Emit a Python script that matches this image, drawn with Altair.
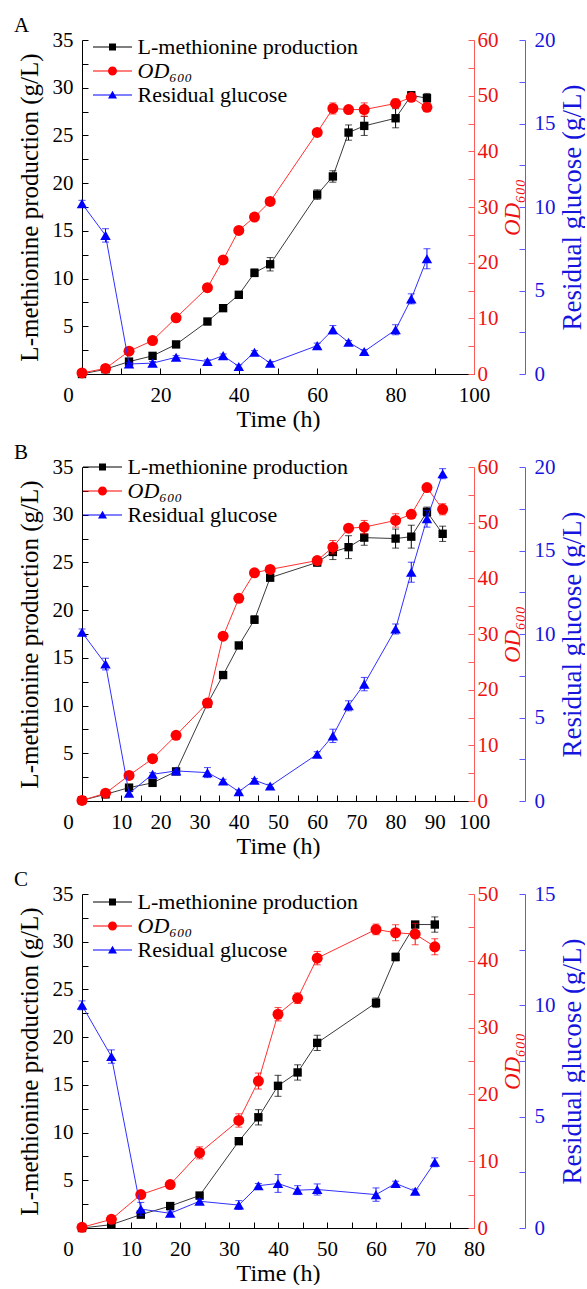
import altair as alt
import pandas as pd

FONT = "Liberation Serif"
MET = "L-methionine production"
OD = "OD₆₀₀"
GLC = "Residual glucose"
SERIES = [MET, OD, GLC]

# ---------------- Panel A ----------------
a_time = [0, 6, 12, 18, 24, 32, 36, 40, 44, 48, 60, 64, 68, 72, 80, 84, 88]
a_met = [0.0, 0.5, 1.3, 1.9, 3.1, 5.5, 6.9, 8.3, 10.6, 11.5, 18.8, 20.7, 25.3, 26.0, 26.8, 29.2, 28.9]
a_met_err = [0.05, 0.1, 0.15, 0.2, 0.2, 0.2, 0.2, 0.2, 0.4, 0.7, 0.5, 0.6, 0.8, 1.0, 1.0, 0.4, 0.5]
a_od = [0.2, 1.0, 4.1, 6.0, 10.1, 15.5, 20.5, 25.8, 28.2, 31.0, 43.4, 47.7, 47.5, 47.5, 48.6, 49.7, 47.9]
a_od_err = [0.1, 0.3, 0.3, 0.3, 0.3, 0.3, 0.5, 0.5, 0.5, 0.5, 0.5, 1.0, 0.6, 1.2, 0.8, 0.6, 0.6]
a_glc = [10.2, 8.3, 0.6, 0.65, 1.0, 0.75, 1.1, 0.45, 1.3, 0.65, 1.7, 2.65, 1.9, 1.35, 2.65, 4.5, 6.9]
a_glc_err = [0.2, 0.4, 0.1, 0.1, 0.1, 0.1, 0.1, 0.1, 0.1, 0.1, 0.15, 0.25, 0.1, 0.1, 0.3, 0.3, 0.6]

# ---------------- Panel B ----------------
b_time = [0, 6, 12, 18, 24, 32, 36, 40, 44, 48, 60, 64, 68, 72, 80, 84, 88, 92]
b_met = [0.07, 0.7, 1.4, 1.9, 3.1, 10.2, 13.2, 16.3, 19.0, 23.4, 25.0, 26.1, 26.6, 27.6, 27.5, 27.7, 30.3, 28.0]
b_met_err = [0.05, 0.1, 0.1, 0.2, 0.2, 0.2, 0.3, 0.3, 0.4, 0.3, 0.4, 0.8, 1.2, 0.8, 1.0, 1.2, 0.5, 0.8]
b_od = [0.1, 1.4, 4.6, 7.6, 11.8, 17.6, 29.6, 36.4, 41.0, 41.6, 43.2, 45.6, 49.0, 49.2, 50.4, 51.5, 56.3, 52.4]
b_od_err = [0.1, 0.3, 0.3, 0.3, 0.3, 0.3, 0.5, 0.5, 0.5, 0.5, 0.6, 1.2, 0.6, 1.2, 1.2, 0.6, 0.5, 1.0]
b_glc = [10.1, 8.2, 0.46, 1.6, 1.8, 1.7, 1.2, 0.56, 1.25, 0.9, 2.8, 3.9, 5.7, 7.0, 10.3, 13.7, 16.9, 19.6]
b_glc_err = [0.2, 0.35, 0.1, 0.1, 0.1, 0.3, 0.1, 0.1, 0.1, 0.1, 0.15, 0.4, 0.3, 0.4, 0.3, 0.6, 0.5, 0.3]

# ---------------- Panel C ----------------
c_time = [0, 6, 12, 18, 24, 32, 36, 40, 44, 48, 60, 64, 68, 72]
c_met = [0.0, 0.35, 1.4, 2.3, 3.4, 9.1, 11.6, 14.9, 16.3, 19.4, 23.6, 28.4, 31.8, 31.8]
c_met_err = [0.05, 0.1, 0.1, 0.2, 0.2, 0.3, 0.8, 1.1, 0.8, 0.8, 0.5, 0.4, 0.3, 0.8]
c_od = [0.1, 1.3, 5.0, 6.5, 11.25, 16.1, 22.0, 32.0, 34.4, 40.4, 44.7, 44.2, 44.0, 42.1]
c_od_err = [0.1, 0.5, 0.5, 0.3, 0.9, 1.0, 1.2, 1.0, 0.8, 1.0, 0.8, 1.2, 1.6, 1.2]
c_glc = [10.0, 7.7, 0.85, 0.66, 1.2, 1.03, 1.9, 2.0, 1.7, 1.73, 1.5, 2.0, 1.65, 2.95]
c_glc_err = [0.2, 0.3, 0.3, 0.1, 0.1, 0.2, 0.1, 0.4, 0.2, 0.25, 0.3, 0.1, 0.1, 0.2]

# tick values (major + minor)
met_ticks = [i * 2.5 for i in range(15)]
od60_ticks = [i * 5 for i in range(13)]
od50_ticks = [i * 5 for i in range(11)]
glc20_ticks = [i * 2.5 for i in range(9)]
glc15_ticks = [i * 2.5 for i in range(7)]
x100a_ticks = [i * 10 for i in range(11)]
x100b_ticks = [i * 5 for i in range(21)]
x80_ticks = [i * 5 for i in range(17)]

BLACK_PT, BLACK_LN = "#000000", "#3a3a3a"
RED_PT, RED_LN, RED_AX, RED_TXT = "#ff0000", "#ff3030", "#ff5a5a", "#ee1111"
BLUE_PT, BLUE_LN, BLUE_AX, BLUE_TXT = "#0000ff", "#3030ff", "#5a5aff", "#1515dd"

SQ = "M-1.95,-0.05H1.95V0.05H-1.95Z M-0.35,-0.35H0.35V0.35H-0.35Z"
CI = "M-1.95,-0.05H1.95V0.05H-1.95Z M-0.45,0A0.45,0.45 0 1,1 0.45,0A0.45,0.45 0 1,1 -0.45,0Z"
TR = "M-1.95,-0.05H1.95V0.05H-1.95Z M0,-0.42L0.45,0.35L-0.45,0.35Z"

INWARD = {"expr": "-6"}
W, H = 392, 334


def frame(t, v, e):
    return pd.DataFrame({
        "t": t, "v": v,
        "lo": [a - b for a, b in zip(v, e)],
        "hi": [a + b for a, b in zip(v, e)],
    })


def series(df, X, domain, axis, pt_color, ln_color, shape, size):
    yscale = alt.Scale(domain=domain, nice=False, zero=False)
    base = alt.Chart(df)
    line = base.mark_line(color=ln_color, strokeWidth=1).encode(
        x=X, y=alt.Y("v:Q", scale=yscale, axis=axis))
    eb = base.mark_errorbar(ticks=True, size=7, thickness=1, color=pt_color).encode(
        x=X, y=alt.Y("lo:Q", scale=yscale, axis=axis), y2="hi:Q")
    pts = base.mark_point(shape=shape, filled=True, size=size, color=pt_color, opacity=1).encode(
        x=X, y=alt.Y("v:Q", scale=yscale, axis=axis))
    return alt.layer(line, eb, pts)


def panel(letter, t, met, met_e, od, od_e, glc, glc_e, xmax, xticks, xmajor,
          odmax, odticks, glcmax, glcticks, leg_x, leg_y):
    xaxis = alt.Axis(
        values=xticks,
        labelExpr=f"datum.value % {xmajor} == 0 ? format(datum.value, 'd') : ''",
        labelOffset={"expr": "datum.value == 0 ? -14 : 0"},
        title="Time (h)", titleFontSize=24, titlePadding=2,
        labelFontSize=21, labelPadding=16, labelFlush=False,
        tickSize=INWARD, tickColor="black", domainColor="black",
        labelColor="black", titleColor="black",
    )
    X = alt.X("t:Q", scale=alt.Scale(domain=[0, xmax], nice=False, zero=False), axis=xaxis)

    met_axis = alt.Axis(
        values=met_ticks,
        labelExpr="(datum.value % 5 == 0 && datum.value > 0) ? format(datum.value, 'd') : ''",
        title="L-methionine production (g/L)", titleFontSize=25, titlePadding=10,
        labelFontSize=21, labelPadding=15, labelFlush=False,
        tickSize=INWARD, tickColor="black", domainColor="black",
        labelColor="black", titleColor="black",
    )
    od_axis = alt.Axis(
        orient="right", values=odticks,
        labelExpr="datum.value % 10 == 0 ? format(datum.value, 'd') : ''",
        title=OD, titleFontSize=23, titleFontStyle="italic", titleAngle=270,
        titleBaseline="top", titlePadding=3,
        labelFontSize=21, labelPadding=9, labelFlush=False,
        tickSize=INWARD, tickColor=RED_AX, domainColor=RED_AX,
        labelColor=RED_TXT, titleColor=RED_TXT,
    )
    glc_axis = alt.Axis(
        orient="right", offset=51, values=glcticks,
        labelExpr="datum.value % 5 == 0 ? format(datum.value, 'd') : ''",
        title="Residual glucose (g/L)", titleFontSize=27, titleAngle=270,
        titleBaseline="top", titlePadding=4,
        labelFontSize=21, labelPadding=15, labelFlush=False,
        tickSize=INWARD, tickColor=BLUE_AX, domainColor=BLUE_AX,
        labelColor=BLUE_TXT, titleColor=BLUE_TXT,
    )

    s_met = series(frame(t, met, met_e), X, [0, 35], met_axis, BLACK_PT, BLACK_LN, "square", 70)
    s_od = series(frame(t, od, od_e), X, [0, odmax], od_axis, RED_PT, RED_LN, "circle", 121)
    s_glc = series(frame(t, glc, glc_e), X, [0, glcmax], glc_axis, BLUE_PT, BLUE_LN, "triangle-up", 110)

    legend = alt.Legend(
        orient="none", legendX=leg_x, legendY=leg_y, title=None,
        labelFont=FONT, labelFontSize=22, labelColor="black", labelLimit=0,
        labelFontStyle={"expr": f"datum.value == '{OD}' ? 'italic' : 'normal'"},
        symbolSize=400, symbolOffset=10, labelOffset=14, rowPadding=2,
        symbolStrokeWidth=0, symbolOpacity=1, padding=0,
    )
    leg_df = pd.DataFrame({"series": SERIES})
    dummy = alt.Chart(leg_df).mark_point(filled=True, opacity=1).encode(
        fill=alt.Fill("series:N", scale=alt.Scale(domain=SERIES, range=[BLACK_PT, RED_PT, BLUE_PT]),
                      legend=legend),
        shape=alt.Shape("series:N", scale=alt.Scale(domain=SERIES, range=[SQ, CI, TR]),
                        legend=legend),
    ).transform_filter("datum.series == 'none'")

    return alt.layer(s_met, s_od, s_glc, dummy).resolve_scale(y="independent").properties(
        width=W, height=H,
        title=alt.TitleParams(text=letter, anchor="start", frame="group", dx=-68, dy=10,
                              fontSize=21, font=FONT, fontWeight="normal", color="black",
                              offset=3),
    )


pa = panel("A", a_time, a_met, a_met_err, a_od, a_od_err, a_glc, a_glc_err,
           100, x100a_ticks, 20, 60, od60_ticks, 20, glc20_ticks, 9.5, -4)
pb = panel("B", b_time, b_met, b_met_err, b_od, b_od_err, b_glc, b_glc_err,
           100, x100b_ticks, 10, 60, od60_ticks, 20, glc20_ticks, -0.5, -11)
pc = panel("C", c_time, c_met, c_met_err, c_od, c_od_err, c_glc, c_glc_err,
           80, x80_ticks, 10, 50, od50_ticks, 15, glc15_ticks, 9.5, -3)

chart = alt.vconcat(pa, pb, pc, spacing=11).resolve_scale(
    x="independent", y="independent", fill="independent", shape="independent"
).properties(
    padding={"left": 14, "top": 15, "right": 0, "bottom": 0},
).configure(font=FONT).configure_view(stroke=None).configure_axis(
    grid=False, labelFont=FONT, titleFont=FONT, titleFontWeight="normal",
    domainWidth=1, tickWidth=1,
).configure_legend(labelFont=FONT).configure_title(font=FONT)

chart.save("out.html", embed_options={"renderer": "svg", "actions": False})
